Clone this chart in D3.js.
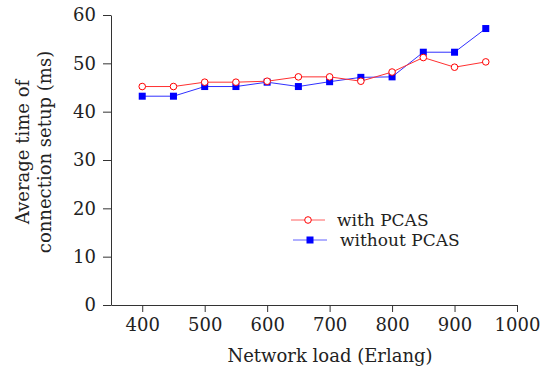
<!DOCTYPE html>
<html>
<head>
<meta charset="utf-8">
<script src="https://cdn.jsdelivr.net/npm/d3@7"></script>
<style>
  body { margin: 0; background: #fff; }
  svg { display: block; font-family: "DejaVu Serif", serif; }
</style>
</head>
<body>
<div id="chart"></div>
<script>
const loads = [400, 450, 500, 550, 600, 650, 700, 750, 800, 850, 900, 950];
const withPcas = [45.2, 45.2, 46.1, 46.1, 46.3, 47.2, 47.2, 46.3, 48.2, 51.2, 49.2, 50.3];
const withoutPcas = [43.2, 43.2, 45.2, 45.2, 46.1, 45.2, 46.2, 47.1, 47.2, 52.3, 52.3, 57.2];
const xTicks = [400, 500, 600, 700, 800, 900, 1000];
const yTicks = [0, 10, 20, 30, 40, 50, 60];

const W = 541, H = 373;
const M = { top: 15, right: 24, bottom: 68, left: 111 };
const FS = 18;

const svg = d3.select("#chart").append("svg").attr("width", W).attr("height", H);

const x = d3.scaleLinear().domain([350, 1000]).range([M.left, W - M.right]);
const y = d3.scaleLinear().domain([0, 60]).range([H - M.bottom, M.top]);

// ── Axes ────────────────────────────────────────────────────────────────
const xAxis = svg.append("g")
  .attr("transform", `translate(0,${H - M.bottom})`)
  .call(d3.axisBottom(x).tickValues(xTicks).tickFormat(d3.format("d"))
    .tickSize(7).tickPadding(6).tickSizeOuter(0));
const yAxis = svg.append("g")
  .attr("transform", `translate(${M.left},0)`)
  .call(d3.axisLeft(y).tickValues(yTicks).tickSize(8).tickPadding(7).tickSizeOuter(0));

[xAxis, yAxis].forEach((a) => {
  a.attr("font-family", "DejaVu Serif, serif").attr("font-size", FS);
  a.selectAll("path, line").attr("stroke", "#333");
  a.selectAll("text").attr("fill", "#222");
});

// ── Titles ──────────────────────────────────────────────────────────────
svg.append("text")
  .attr("x", 330)
  .attr("y", 362)
  .attr("text-anchor", "middle")
  .attr("font-size", FS)
  .attr("fill", "#222")
  .text("Network load (Erlang)");

const yl = svg.append("text")
  .attr("transform", "translate(29,152) rotate(-90)")
  .attr("text-anchor", "middle")
  .attr("font-size", FS)
  .attr("fill", "#222");
yl.append("tspan").attr("x", 0).attr("y", 0).text("Average time of");
yl.append("tspan").attr("x", 0).attr("y", 22).text("connection setup (ms)");

// ── Series ──────────────────────────────────────────────────────────────
const line = d3.line().x((d) => x(d[0])).y((d) => y(d[1]));
const redPts = loads.map((l, i) => [l, withPcas[i]]);
const bluePts = loads.map((l, i) => [l, withoutPcas[i]]);

svg.append("path").datum(bluePts).attr("d", line)
  .attr("fill", "none").attr("stroke", "#3030ff").attr("stroke-width", 1);
svg.append("path").datum(redPts).attr("d", line)
  .attr("fill", "none").attr("stroke", "#ff3030").attr("stroke-width", 1);

svg.append("g").selectAll("rect").data(bluePts).join("rect")
  .attr("x", (d) => x(d[0]) - 3.5).attr("y", (d) => y(d[1]) - 3.5)
  .attr("width", 7).attr("height", 7).attr("fill", "#0000ff");
svg.append("g").selectAll("circle").data(redPts).join("circle")
  .attr("cx", (d) => x(d[0])).attr("cy", (d) => y(d[1])).attr("r", 3.3)
  .attr("fill", "#fff").attr("stroke", "#ff0000").attr("stroke-width", 1);

// ── Legend ──────────────────────────────────────────────────────────────
const lg = svg.append("g").attr("font-size", 17).attr("fill", "#222");
lg.append("line").attr("x1", 291).attr("x2", 325).attr("y1", 220).attr("y2", 220)
  .attr("stroke", "#ff6060").attr("stroke-width", 1);
lg.append("circle").attr("cx", 308).attr("cy", 220).attr("r", 3.3)
  .attr("fill", "#fff").attr("stroke", "#ff0000");
lg.append("text").attr("x", 337).attr("y", 226).text("with PCAS");
lg.append("line").attr("x1", 293).attr("x2", 327).attr("y1", 240).attr("y2", 240)
  .attr("stroke", "#6060ff").attr("stroke-width", 1);
lg.append("rect").attr("x", 306.5).attr("y", 236.5).attr("width", 7).attr("height", 7)
  .attr("fill", "#0000ff");
lg.append("text").attr("x", 340).attr("y", 246).text("without PCAS");
</script>
</body>
</html>
